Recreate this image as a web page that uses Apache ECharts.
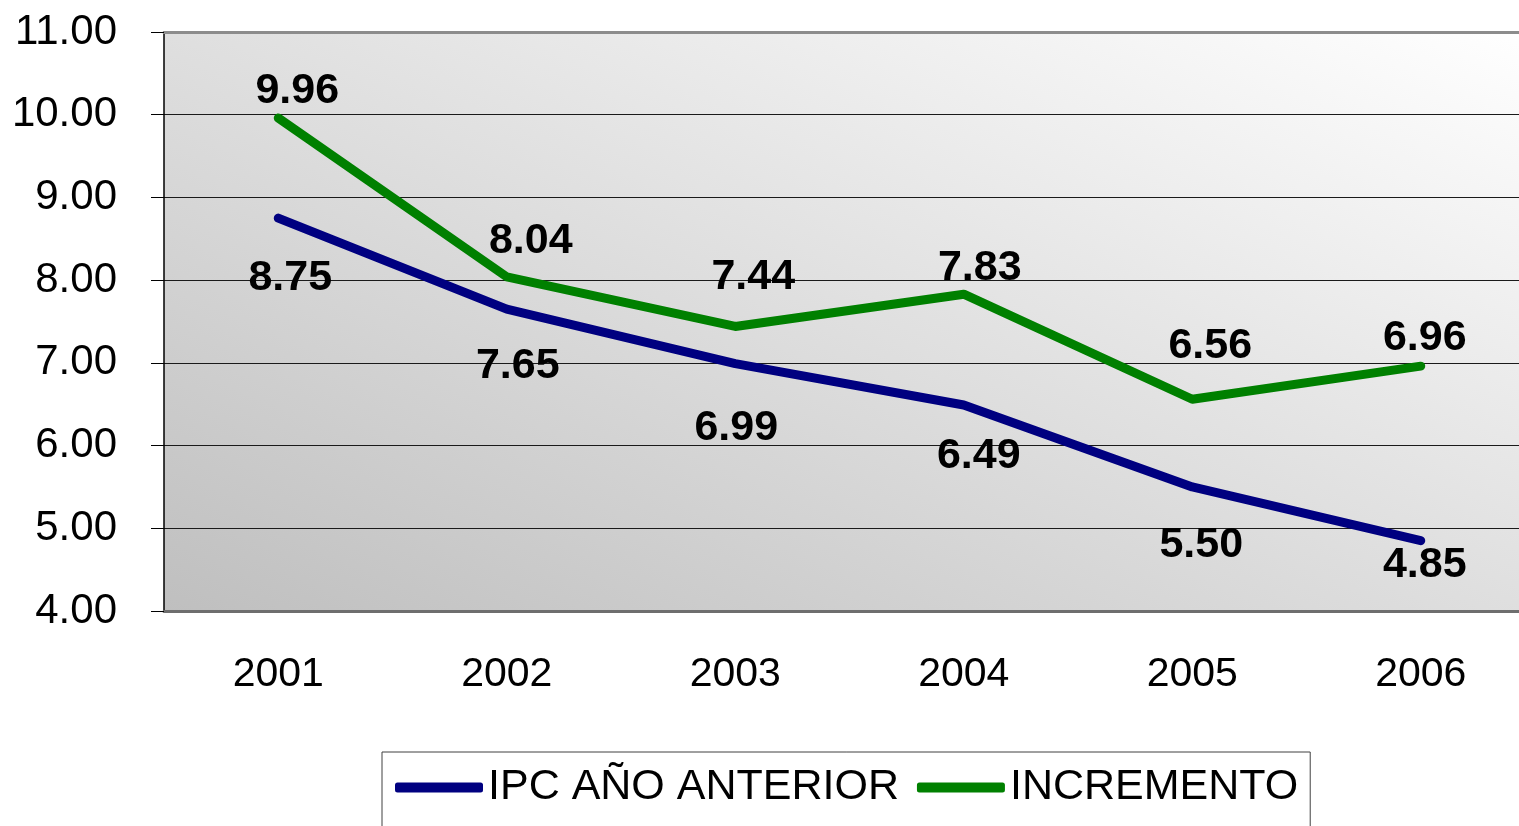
<!DOCTYPE html>
<html>
<head>
<meta charset="utf-8">
<title>IPC</title>
<script src="https://cdn.jsdelivr.net/npm/echarts@6/dist/echarts.min.js"></script>
<style>
  html, body { margin: 0; padding: 0; background: #fff; }
  #main { width: 1519px; height: 826px; }
</style>
</head>
<body>
<div id="main"></div>
<script>
// datos
var years = ['2001', '2002', '2003', '2004', '2005', '2006']
var ipcAnterior = [8.75, 7.65, 6.99, 6.49, 5.50, 4.85]
var incremento = [9.96, 8.04, 7.44, 7.83, 6.56, 6.96]
var yTicks = { min: 4, max: 11, step: 1 }

// desplazamiento de cada etiqueta respecto a su punto (px)
var ipcLabelOffsets = [[12, 60], [11, 57], [1, 64], [15, 51], [9, 58], [4, 24]]
var incLabelOffsets = [[19, -27], [24, -36], [18, -49], [16, -26], [18, -53], [4, -28]]

var FONT = "'Liberation Sans', Arial, sans-serif"

function withLabels(values, offsets) {
    return values.map(function (v, i) {
        return { value: v, label: { offset: offsets[i] } }
    })
}

var myChart = echarts.init(document.getElementById('main'))

// fondo degradado: oscuro abajo-izquierda, claro arriba-derecha
var plotBg = new echarts.graphic.LinearGradient(0, 1, 0.3027, -0.6973, [
    { offset: 0, color: '#bfbfbf' },
    { offset: 1, color: '#ffffff' }
])

var option = {
    animation: false,
    textStyle: { fontFamily: FONT },
    grid: {
        show: true,
        left: 164,
        top: 32,
        right: -16,
        bottom: 215,
        outerBoundsMode: 'none',
        backgroundColor: plotBg,
        borderWidth: 0
    },
    legend: {
        left: 382,
        top: 752,
        padding: [14, 12, 40, 13],
        borderColor: '#404040',
        borderWidth: 1,
        itemGap: 18,
        itemWidth: 88,
        itemHeight: 10,
        icon: 'roundRect',
        textStyle: { fontSize: 43, color: '#000', fontFamily: FONT },
        data: ['IPC AÑO ANTERIOR', 'INCREMENTO']
    },
    xAxis: [
        {
            type: 'category',
            data: years,
            axisLine: { lineStyle: { color: '#6e6e6e', width: 3 } },
            axisTick: { length: 14, lineStyle: { color: '#6e6e6e', width: 1.5 } },
            axisLabel: { fontSize: 41, color: '#000', margin: 43, fontFamily: FONT },
            splitLine: { show: false }
        },
        {
            // borde superior del area de trazado
            type: 'category',
            position: 'top',
            data: years,
            axisLine: { lineStyle: { color: '#8c8c8c', width: 3 } },
            axisTick: { show: false },
            axisLabel: { show: false }
        }
    ],
    yAxis: {
        type: 'value',
        min: yTicks.min,
        max: yTicks.max,
        interval: yTicks.step,
        axisLine: { show: true, lineStyle: { color: '#000', width: 1.5 } },
        axisTick: { show: true, length: 13, lineStyle: { color: '#000', width: 1 } },
        axisLabel: {
            fontSize: 42,
            color: '#000',
            margin: 47,
            fontFamily: FONT,
            formatter: function (v) { return v.toFixed(2) }
        },
        splitLine: { lineStyle: { color: '#1a1a1a', width: 1 } }
    },
    series: [
        {
            name: 'IPC AÑO ANTERIOR',
            type: 'line',
            data: withLabels(ipcAnterior, ipcLabelOffsets),
            color: '#000080',
            symbol: 'circle',
            symbolSize: 2,
            lineStyle: { width: 9, cap: 'round', join: 'round', color: '#000080' },
            label: {
                show: true,
                position: 'inside',
                color: '#000',
                fontSize: 43,
                fontWeight: 'bold',
                fontFamily: FONT,
                formatter: function (p) { return p.value.toFixed(2) }
            },
            z: 3
        },
        {
            name: 'INCREMENTO',
            type: 'line',
            data: withLabels(incremento, incLabelOffsets),
            color: '#008000',
            symbol: 'circle',
            symbolSize: 2,
            lineStyle: { width: 9, cap: 'round', join: 'round', color: '#008000' },
            label: {
                show: true,
                position: 'inside',
                color: '#000',
                fontSize: 43,
                fontWeight: 'bold',
                fontFamily: FONT,
                formatter: function (p) { return p.value.toFixed(2) }
            },
            z: 3
        }
    ]
}

myChart.setOption(option)
window.addEventListener('resize', () => {
    myChart.resize()
})
</script>
</body>
</html>
